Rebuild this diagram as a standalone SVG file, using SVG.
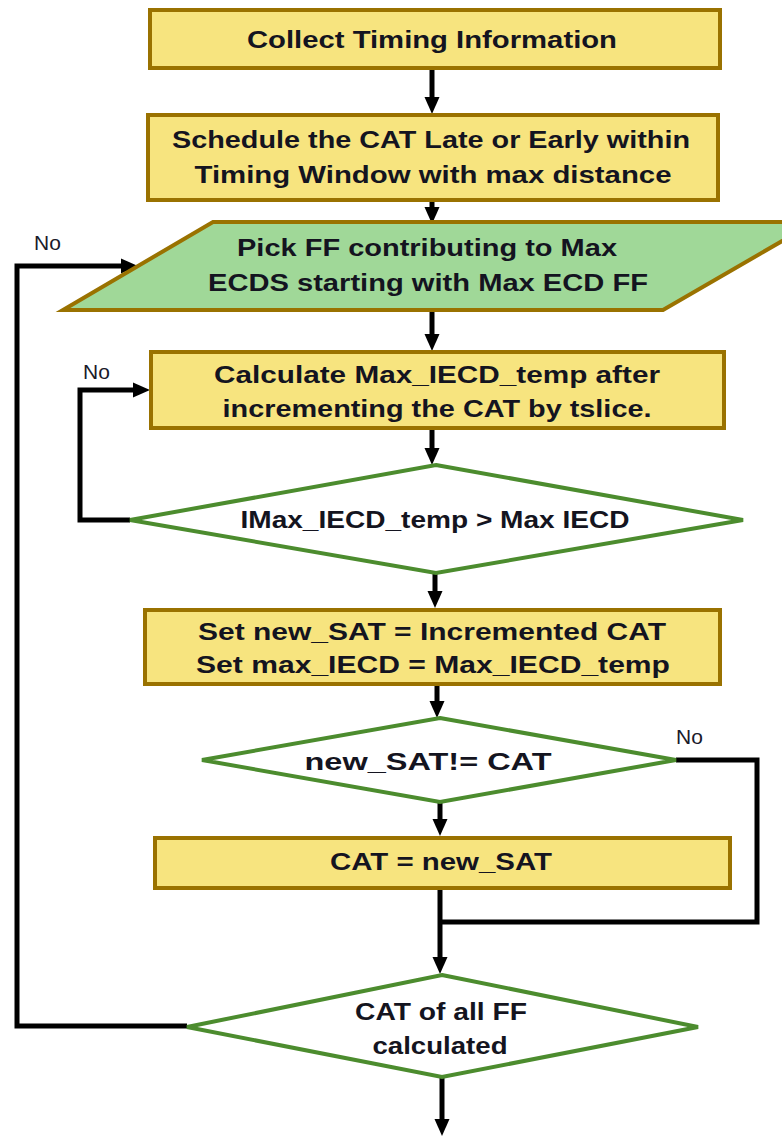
<svg xmlns="http://www.w3.org/2000/svg" width="782" height="1137" viewBox="0 0 782 1137">
  <style>
    .box { fill: #F7E47F; stroke: #9A7200; stroke-width: 4; }
    .para { fill: #A0D898; stroke: #9A7200; stroke-width: 4; stroke-linejoin: miter; }
    .dec { fill: #FFFFFF; stroke: #4C8C2E; stroke-width: 4; }
    .wire { fill: none; stroke: #000; stroke-width: 5; stroke-linejoin: miter; }
    .t { font-family: "Liberation Sans", Arial, sans-serif; font-weight: bold; font-size: 23px; fill: #141420; text-anchor: middle; }
    .lbl { font-family: "Liberation Sans", Arial, sans-serif; font-size: 21px; fill: #1a1a2a; }
  </style>
  <defs>
    <marker id="ah" markerUnits="userSpaceOnUse" markerWidth="17" markerHeight="16" refX="7" refY="8" orient="auto">
      <path d="M0,0.5 L17,8 L0,15.5 z" fill="#000"/>
    </marker>
  </defs>
  <rect width="782" height="1137" fill="#FFFFFF"/>

  <!-- arrows and loop-back paths, drawn beneath the shapes -->
  <g id="connectors">
    <line class="wire" x1="432" y1="68" x2="432" y2="104" marker-end="url(#ah)"/>
    <line class="wire" x1="432" y1="200" x2="432" y2="214" marker-end="url(#ah)"/>
    <line class="wire" x1="432" y1="312" x2="432" y2="341" marker-end="url(#ah)"/>
    <line class="wire" x1="432" y1="428" x2="432" y2="455" marker-end="url(#ah)"/>
    <line class="wire" x1="435" y1="573" x2="435" y2="598" marker-end="url(#ah)"/>
    <line class="wire" x1="437" y1="684" x2="437" y2="708" marker-end="url(#ah)"/>
    <line class="wire" x1="440" y1="802" x2="440" y2="826" marker-end="url(#ah)"/>
    <line class="wire" x1="440" y1="888" x2="440" y2="964" marker-end="url(#ah)"/>
    <line class="wire" x1="442" y1="1077" x2="442" y2="1126" marker-end="url(#ah)"/>
    <polyline class="wire" points="676,760 757,760 757,922 440,922"/>
    <polyline class="wire" points="130,520 80,520 80,390 140,390" marker-end="url(#ah)"/>
    <polyline class="wire" points="187,1026 17,1026 17,266 128,266" marker-end="url(#ah)"/>
    <text class="lbl" x="34" y="250">No</text>
    <text class="lbl" x="83" y="379">No</text>
    <text class="lbl" x="676" y="744">No</text>
  </g>

  <g id="collect">
    <rect class="box" x="150" y="10" width="570" height="58"/>
    <text class="t" x="432" y="48" textLength="370" lengthAdjust="spacingAndGlyphs">Collect  Timing  Information</text>
  </g>

  <g id="schedule">
    <rect class="box" x="148" y="115" width="570" height="85"/>
    <text class="t" x="431" y="148" textLength="518" lengthAdjust="spacingAndGlyphs">Schedule the CAT Late or Early within</text>
    <text class="t" x="433" y="183" textLength="477" lengthAdjust="spacingAndGlyphs">Timing  Window with max distance</text>
  </g>

  <g id="pick">
    <polygon class="para" points="213,222 815,222 663,310 63,310"/>
    <text class="t" x="427" y="256" textLength="380" lengthAdjust="spacingAndGlyphs">Pick FF contributing to Max</text>
    <text class="t" x="428" y="291" textLength="440" lengthAdjust="spacingAndGlyphs">ECDS starting with Max ECD FF</text>
  </g>

  <g id="calculate">
    <rect class="box" x="151" y="352" width="573" height="76"/>
    <text class="t" x="437" y="383" textLength="446" lengthAdjust="spacingAndGlyphs">Calculate  Max_IECD_temp after</text>
    <text class="t" x="437" y="417" textLength="429" lengthAdjust="spacingAndGlyphs">incrementing  the CAT by tslice.</text>
  </g>

  <g id="compare-iecd">
    <polygon class="dec" points="436,465 743,520 436,573 130,520"/>
    <text class="t" x="435" y="528" textLength="389" lengthAdjust="spacingAndGlyphs">IMax_IECD_temp &gt; Max IECD</text>
  </g>

  <g id="set-values">
    <rect class="box" x="145" y="610" width="575" height="74"/>
    <text class="t" x="432" y="640" textLength="468" lengthAdjust="spacingAndGlyphs">Set new_SAT = Incremented CAT</text>
    <text class="t" x="433" y="673" textLength="474" lengthAdjust="spacingAndGlyphs">Set max_IECD = Max_IECD_temp</text>
  </g>

  <g id="compare-sat">
    <polygon class="dec" points="440,718 676,760 440,802 202,760"/>
    <text class="t" x="428" y="770" font-size="29" textLength="247" lengthAdjust="spacingAndGlyphs">new_SAT!= CAT</text>
  </g>

  <g id="assign-cat">
    <rect class="box" x="155" y="838" width="575" height="50"/>
    <text class="t" x="441" y="870" textLength="222" lengthAdjust="spacingAndGlyphs">CAT = new_SAT</text>
  </g>

  <g id="all-done">
    <polygon class="dec" points="442,975 698,1027 442,1077 187,1027"/>
    <text class="t" x="441" y="1020" textLength="172" lengthAdjust="spacingAndGlyphs">CAT of all  FF</text>
    <text class="t" x="440" y="1054" textLength="135" lengthAdjust="spacingAndGlyphs">calculated</text>
  </g>
</svg>
